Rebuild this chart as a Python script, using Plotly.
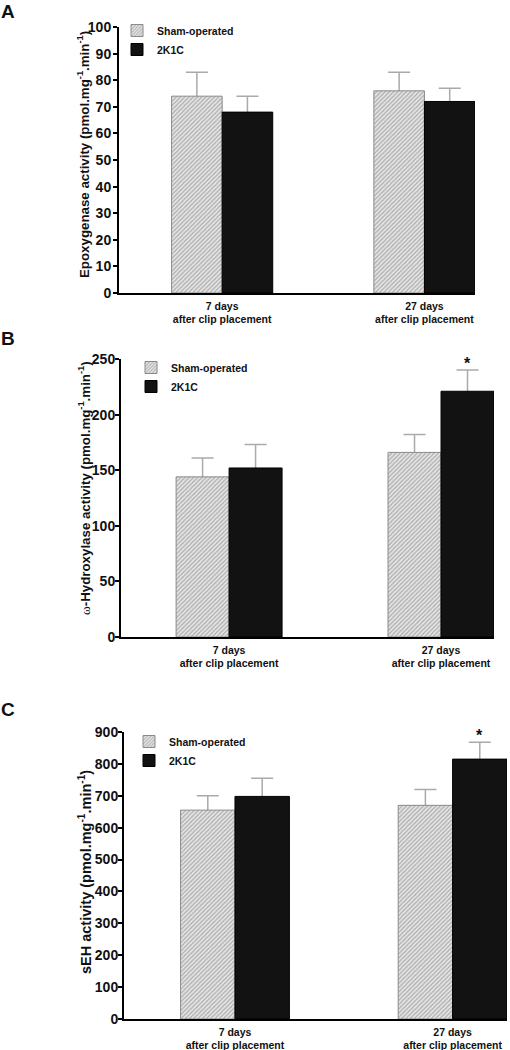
import plotly.graph_objects as go

# ---------------- data ----------------
categories = ["7 days<br>after clip placement", "27 days<br>after clip placement"]
series_names = ["Sham-operated", "2K1C"]

epox_sham = [74, 76]
epox_sham_err = [9, 7]
epox_2k1c = [68, 72]
epox_2k1c_err = [6, 5]

hydrox_sham = [144, 166]
hydrox_sham_err = [17, 16]
hydrox_2k1c = [152, 221]
hydrox_2k1c_err = [21, 19]

seh_sham = [655, 670]
seh_sham_err = [45, 50]
seh_2k1c = [698, 815]
seh_2k1c_err = [57, 53]

# significance marks on 2K1C bars
hydrox_sig = [False, True]
seh_sig = [False, True]

epox_ticks = list(range(0, 101, 10))
hydrox_ticks = list(range(0, 251, 50))
seh_ticks = list(range(0, 901, 100))

# ---------------- layout helpers ----------------
W, H = 510, 1050
FONT = "Liberation Sans, Arial, sans-serif"
xpos = list(range(len(categories)))

def px_x(p):
    return p / W

def px_y(p):
    return 1 - p / H

panels = [
    dict(sham=epox_sham, sham_err=epox_sham_err, k=epox_2k1c, k_err=epox_2k1c_err,
         sig=[False, False], ticks=epox_ticks, rng=[0, 100],
         xdom=[px_x(119), px_x(475)], ydom=[px_y(293), px_y(27)],
         title="Epoxygenase activity (pmol.mg<sup>-1</sup>.min<sup>-1</sup>)",
         title_pos=(83, 155), title_size=13.3, tick_size=14, standoff=-1,
         legend_pos=(117, 16), label="A", label_top=0),
    dict(sham=hydrox_sham, sham_err=hydrox_sham_err, k=hydrox_2k1c, k_err=hydrox_2k1c_err,
         sig=hydrox_sig, ticks=hydrox_ticks, rng=[0, 250],
         xdom=[px_x(121), px_x(494)], ydom=[px_y(637), px_y(359)],
         title="<span style='font-family:Liberation Serif;font-weight:normal'>\u03c9</span>-Hydroxylase activity (pmol.mg<sup>-1</sup>.min<sup>-1</sup>)",
         title_pos=(85, 488), title_size=13.3, tick_size=14, standoff=-3,
         legend_pos=(131, 353), label="B", label_top=327),
    dict(sham=seh_sham, sham_err=seh_sham_err, k=seh_2k1c, k_err=seh_2k1c_err,
         sig=seh_sig, ticks=seh_ticks, rng=[0, 900],
         xdom=[px_x(124), px_x(507)], ydom=[px_y(1019), px_y(732)],
         title="sEH activity (pmol.mg<sup>-1</sup>.min<sup>-1</sup>)",
         title_pos=(85, 872), title_size=14.5, tick_size=14, standoff=-3,
         legend_pos=(129, 727), label="C", label_top=698),
]

fig = go.Figure()
annotations = []
layout_extra = {}

SHAM_MARKER = dict(color="#e0e0e0",
                   pattern=dict(shape="/", fgcolor="#707070", bgcolor="#e6e6e6",
                                size=3, solidity=0.4),
                   line=dict(color="#8a8a8a", width=1))
K_MARKER = dict(color="#121212", line=dict(color="#000000", width=1))
ERR_STYLE = dict(type="data", color="#aaaaaa", thickness=1.5, width=11)

for i, p in enumerate(panels):
    n = "" if i == 0 else str(i + 1)
    xa, ya = "x" + n, "y" + n
    leg = "legend" + n
    # error bars drawn first (symmetric), the bars drawn afterwards hide the lower half
    for vals, errs, off in ((p["sham"], p["sham_err"], -0.25), (p["k"], p["k_err"], 0)):
        fig.add_trace(go.Bar(
            x=xpos, y=vals, xaxis=xa, yaxis=ya, width=0.25, offset=off,
            showlegend=False, hoverinfo="skip",
            marker=dict(color="rgba(0,0,0,0)", line=dict(width=0)),
            error_y=dict(array=errs, **ERR_STYLE),
        ))
    fig.add_trace(go.Bar(
        x=xpos, y=p["sham"], xaxis=xa, yaxis=ya, name=series_names[0],
        width=0.25, offset=-0.25, legend=leg, marker=SHAM_MARKER,
    ))
    fig.add_trace(go.Bar(
        x=xpos, y=p["k"], xaxis=xa, yaxis=ya, name=series_names[1],
        width=0.25, offset=0, legend=leg, marker=K_MARKER,
    ))
    layout_extra["xaxis" + n] = dict(
        domain=p["xdom"], anchor=ya, range=[-0.51, 1.25], automargin=False,
        tickvals=xpos, ticktext=categories, ticks="", ticklabelstandoff=2,
        showline=True, linecolor="black", linewidth=2,
        showgrid=False, zeroline=False,
        tickfont=dict(family=FONT, size=10.5, color="#111", weight="bold"),
    )
    layout_extra["yaxis" + n] = dict(
        domain=p["ydom"], anchor=xa, range=p["rng"], tickvals=p["ticks"], automargin=False,
        ticks="outside", ticklen=4, tickwidth=2, tickcolor="black",
        ticklabelstandoff=p["standoff"],
        showline=True, linecolor="black", linewidth=2, showgrid=False, zeroline=False,
        tickfont=dict(family=FONT, size=p["tick_size"], color="#111", weight="bold"),
    )
    lx, ly = p["legend_pos"]
    layout_extra[leg] = dict(
        x=px_x(lx), y=px_y(ly), xanchor="left", yanchor="top",
        bgcolor="rgba(0,0,0,0)", tracegroupgap=0,
        font=dict(family=FONT, size=10.5, color="#111", weight="bold"),
    )
    # y axis title
    tx, ty = p["title_pos"]
    annotations.append(dict(
        x=px_x(tx), y=px_y(ty), xref="paper", yref="paper", text=p["title"],
        textangle=-90, showarrow=False, xanchor="center", yanchor="middle",
        font=dict(family=FONT, size=p["title_size"], color="#111", weight="bold"),
    ))
    # panel label
    annotations.append(dict(
        x=0.0, y=px_y(p["label_top"]), xref="paper", yref="paper", text=p["label"],
        showarrow=False, xanchor="left", yanchor="top", borderpad=0,
        font=dict(family=FONT, size=19, color="#111", weight="bold"),
    ))
    # significance stars
    for j, s in enumerate(p["sig"]):
        if s:
            annotations.append(dict(
                x=xpos[j] + 0.125, y=p["k"][j] + p["k_err"][j], xref=xa, yref=ya,
                text="*", showarrow=False, yanchor="bottom", yshift=-4,
                font=dict(family=FONT, size=16, color="#111", weight="bold"),
            ))

fig.update_layout(
    width=W, height=H, margin=dict(l=0, r=0, t=0, b=0, autoexpand=False),
    paper_bgcolor="white", plot_bgcolor="white",
    barmode="overlay", annotations=annotations, **layout_extra,
)

fig.write_html(
    "out.html",
    config={"displayModeBar": False},
    post_script=(
        "document.documentElement.style.margin='0';"
        "document.documentElement.style.overflow='hidden';"
        "document.body.style.margin='0';document.body.style.overflow='hidden';"
    ),
)
